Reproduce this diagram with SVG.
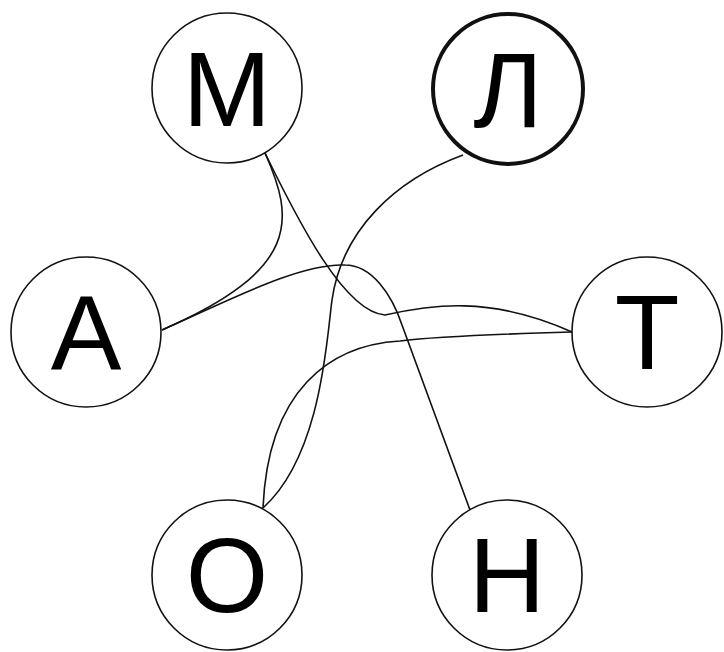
<svg xmlns="http://www.w3.org/2000/svg" width="724" height="652" viewBox="0 0 724 652">
<style>
.edge{fill:none;stroke:#111;stroke-width:1.6}
.node circle{fill:#fff;stroke:#111;stroke-width:1.6}
.node.bold circle{stroke-width:4}
.node text{font-family:"Liberation Sans",Arial,sans-serif;font-size:106px;fill:#000;text-anchor:middle}
</style>
<rect width="724" height="652" fill="#fff"/>
<g id="connectors">
<path id="e-M-A" class="edge" d="M265,153 C295,220 300,270 162,330"/>
<path id="e-M-T" class="edge" d="M265,153 C300,225 345,312 385,315 C430,305 490,295 572,332"/>
<path id="e-A-H" class="edge" d="M162,330 C230,300 300,263 345,265 C372,265 392,295 402,325 L470,510"/>
<path id="e-L-O" class="edge" d="M463,155 C395,180 342,230 332,300 C327,335 322,455 263,508"/>
<path id="e-T-O" class="edge" d="M572,332 C500,334 440,336 400,341 C330,345 268,390 263,508"/>
</g>
<g id="node-M" class="node"><circle cx="227" cy="88" r="75"/><text x="227" y="126">М</text></g>
<g id="node-L" class="node bold"><circle cx="508" cy="89" r="75"/><text x="508" y="127">Л</text></g>
<g id="node-A" class="node"><circle cx="86" cy="332" r="75"/><text x="86" y="369">А</text></g>
<g id="node-T" class="node"><circle cx="647" cy="332" r="75"/><text x="647" y="369">Т</text></g>
<g id="node-O" class="node"><circle cx="227" cy="575" r="75"/><text x="227" y="612">О</text></g>
<g id="node-H" class="node"><circle cx="507" cy="575" r="75"/><text x="507" y="612">Н</text></g>
</svg>
